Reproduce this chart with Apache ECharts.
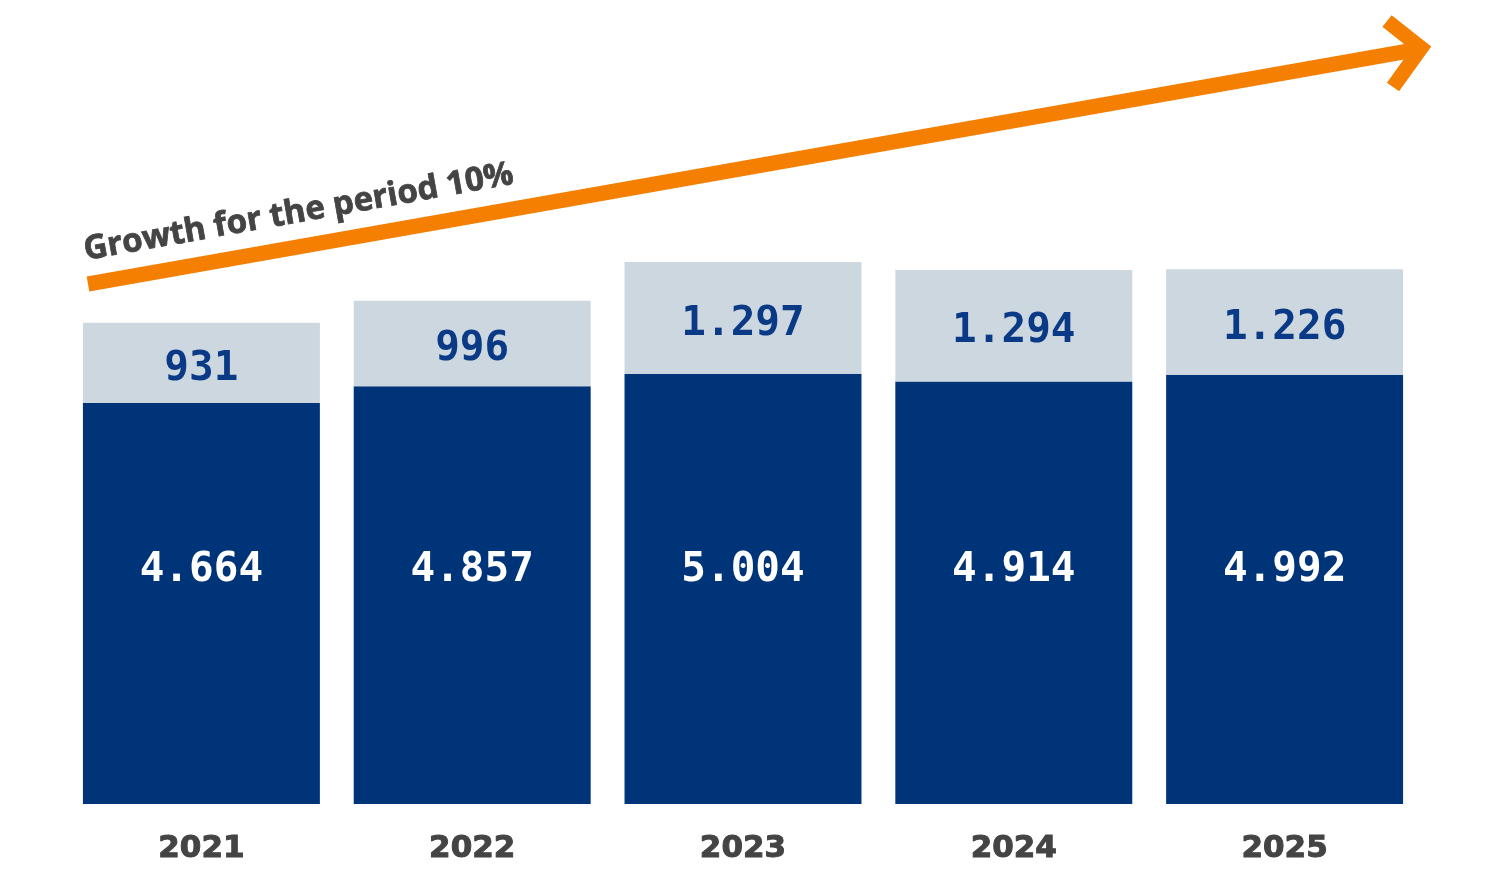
<!DOCTYPE html>
<html>
<head>
<meta charset="utf-8">
<script src="https://cdn.jsdelivr.net/npm/echarts@6/dist/echarts.min.js"></script>
<style>
  html, body { margin: 0; padding: 0; background: #fff; }
  #chart { width: 1500px; height: 887px; }
</style>
</head>
<body>
<div id="chart"></div>
<script>
var years = ['2021', '2022', '2023', '2024', '2025'];
var baseValues = [4664, 4857, 5004, 4914, 4992];
var topValues = [931, 996, 1297, 1294, 1226];
var growthText = 'Growth for the period 10%';

// thousands with a dot, like 4.664
function fmt(v) {
    return String(v).replace(/\B(?=(\d{3})+(?!\d))/g, '.');
}

var myChart = echarts.init(document.getElementById('chart'));
var option = {
    animation: false,
    grid: { left: 66, right: 80, top: 30, bottom: 83 },
    xAxis: {
        type: 'category',
        data: years,
        axisLine: { show: false },
        axisTick: { show: false },
        axisLabel: {
            margin: 29,
            color: '#444444',
            fontFamily: 'DejaVu Sans',
            fontWeight: 'bold',
            fontSize: 31,
            textBorderColor: '#444444',
            textBorderWidth: 1
        }
    },
    yAxis: {
        type: 'value',
        min: 0,
        max: 9000,
        show: false,
        splitLine: { show: false }
    },
    series: [
        {
            name: 'base',
            type: 'bar',
            stack: 'total',
            barWidth: '87.5%',
            data: baseValues,
            itemStyle: { color: '#003478' },
            label: {
                show: true,
                position: 'insideBottom',
                distance: 213,
                formatter: function (p) { return fmt(p.value); },
                color: '#ffffff',
                fontFamily: 'DejaVu Sans Mono',
                fontWeight: 'bold',
                fontSize: 41
            }
        },
        {
            name: 'top',
            type: 'bar',
            stack: 'total',
            barWidth: '87.5%',
            data: topValues,
            itemStyle: { color: '#cdd7e0' },
            label: {
                show: true,
                position: 'inside',
                offset: [0, 6],
                formatter: function (p) { return fmt(p.value); },
                color: '#0a3a86',
                fontFamily: 'DejaVu Sans Mono',
                fontWeight: 'bold',
                fontSize: 41
            }
        }
    ],
    graphic: [
        {
            type: 'line',
            shape: { x1: 88, y1: 284, x2: 1420, y2: 49 },
            style: { stroke: '#f57f00', lineWidth: 15 }
        },
        {
            type: 'polyline',
            shape: { points: [[1387, 21], [1421, 48], [1393, 87]] },
            style: { stroke: '#f57f00', lineWidth: 15, fill: null, lineJoin: 'miter' }
        },
        {
            type: 'text',
            x: 87,
            y: 267,
            rotation: 10.1 * Math.PI / 180,
            style: {
                text: growthText,
                fill: '#444444',
                font: 'bold 33px "Open Sans"',
                align: 'left',
                verticalAlign: 'bottom',
                stroke: '#444444',
                lineWidth: 0.8
            }
        }
    ]
};
myChart.setOption(option);
</script>
</body>
</html>
